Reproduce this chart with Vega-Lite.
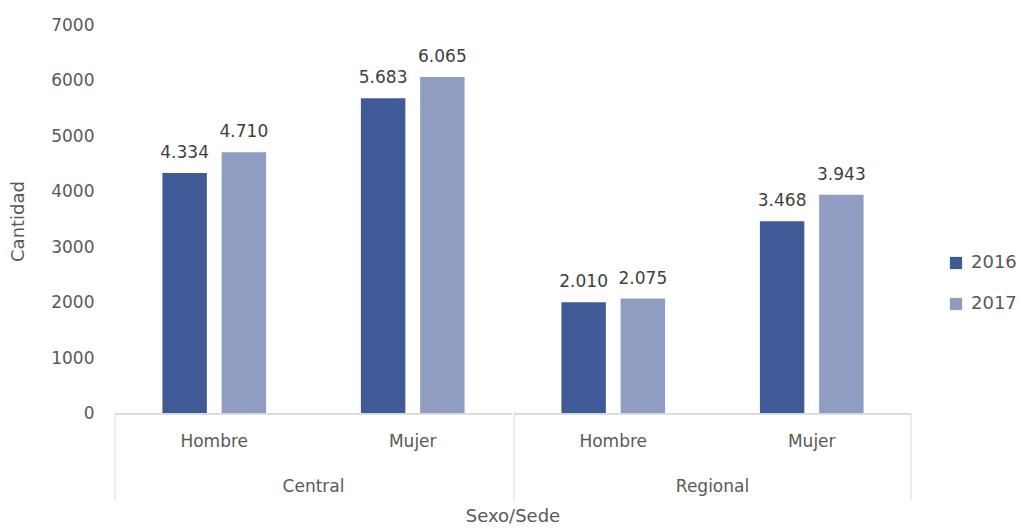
{
  "$schema": "https://vega.github.io/schema/vega-lite/v6.json",
  "background": "white",
  "padding": {"left": 9, "top": 16, "right": 5, "bottom": 5},
  "data": {"values": [
    {"Sede": "Central", "Sexo": "Hombre", "Año": "2016", "Cantidad": 4334},
    {"Sede": "Central", "Sexo": "Hombre", "Año": "2017", "Cantidad": 4710},
    {"Sede": "Central", "Sexo": "Mujer", "Año": "2016", "Cantidad": 5683},
    {"Sede": "Central", "Sexo": "Mujer", "Año": "2017", "Cantidad": 6065},
    {"Sede": "Regional", "Sexo": "Hombre", "Año": "2016", "Cantidad": 2010},
    {"Sede": "Regional", "Sexo": "Hombre", "Año": "2017", "Cantidad": 2075},
    {"Sede": "Regional", "Sexo": "Mujer", "Año": "2016", "Cantidad": 3468},
    {"Sede": "Regional", "Sexo": "Mujer", "Año": "2017", "Cantidad": 3943}
  ]},
  "facet": {
    "column": {
      "field": "Sede", "type": "nominal", "title": "Sexo/Sede",
      "header": {
        "labelOrient": "bottom", "titleOrient": "bottom", "labelAnchor": "middle",
        "labelFontSize": 17, "labelColor": "#595959", "labelPadding": -22,
        "titleFontSize": 18, "titleColor": "#595959", "titleFontWeight": "normal", "titlePadding": -3
      }
    }
  },
  "spacing": 0,
  "spec": {
    "width": 397,
    "height": 475,
    "encoding": {
      "x": {
        "field": "Sexo", "type": "nominal", "title": null, "axis": null,
        "scale": {"paddingInner": 0, "paddingOuter": 0}
      },
      "y": {
        "field": "Cantidad", "type": "quantitative", "title": "Cantidad",
        "scale": {"domain": [-1550, 7000], "nice": false, "zero": false},
        "axis": {
          "values": [0, 1000, 2000, 3000, 4000, 5000, 6000, 7000], "format": "d",
          "domain": false, "ticks": false, "grid": false,
          "labelFontSize": 17, "labelColor": "#595959", "labelPadding": 20,
          "titleFontSize": 18, "titleColor": "#595959", "titleFontWeight": "normal", "titlePadding": 23,
          "titleY": 196
        }
      }
    },
    "layer": [
      {
        "mark": {"type": "bar"},
        "encoding": {
          "xOffset": {"field": "Año", "type": "nominal", "scale": {"paddingInner": 0.25, "paddingOuter": 0.8}},
          "color": {
            "field": "Año", "type": "nominal",
            "scale": {"domain": ["2016", "2017"], "range": ["#3f5a96", "#8f9dc2"]},
            "legend": {
              "title": null, "orient": "none", "legendX": 832, "legendY": 229,
              "symbolType": "square", "symbolSize": 150, "symbolStrokeWidth": 0,
              "labelFontSize": 18, "labelColor": "#595959", "rowPadding": 23, "labelOffset": 6
            }
          }
        }
      },
      {
        "mark": {"type": "text", "baseline": "alphabetic", "dy": -15, "fontSize": 17, "color": "#404040"},
        "encoding": {
          "xOffset": {"field": "Año", "type": "nominal", "scale": {"paddingInner": 0.25, "paddingOuter": 0.8}},
          "text": {"field": "Cantidad", "type": "quantitative", "format": ",d"}
        }
      },
      {
        "transform": [{"filter": "datum['Año'] === '2016'"}],
        "mark": {"type": "text", "baseline": "middle", "fontSize": 17, "color": "#595959"},
        "encoding": {
          "y": {"datum": -500, "type": "quantitative"},
          "text": {"field": "Sexo", "type": "nominal"}
        }
      },
      {
        "mark": {"type": "rule", "color": "#d9d9d9", "strokeWidth": 1},
        "encoding": {
          "x": null,
          "y": {"datum": 0, "type": "quantitative"}
        }
      },
      {
        "transform": [{"filter": "datum['Año'] === '2016' && datum.Sexo === 'Hombre'"}],
        "mark": {"type": "rule", "color": "#d9d9d9", "strokeWidth": 1},
        "encoding": {
          "x": {"field": "Sexo", "type": "nominal", "bandPosition": 0},
          "y": {"datum": 0, "type": "quantitative"},
          "y2": {"datum": -1550}
        }
      },
      {
        "transform": [{"filter": "datum['Año'] === '2016' && datum.Sexo === 'Mujer' && datum.Sede === 'Regional'"}],
        "mark": {"type": "rule", "color": "#d9d9d9", "strokeWidth": 1},
        "encoding": {
          "x": {"field": "Sexo", "type": "nominal", "bandPosition": 1},
          "y": {"datum": 0, "type": "quantitative"},
          "y2": {"datum": -1550}
        }
      }
    ]
  },
  "config": {
    "font": "DejaVu Sans",
    "view": {"stroke": null},
    "locale": {"number": {"decimal": ",", "thousands": ".", "grouping": [3], "currency": ["", ""]}}
  }
}
